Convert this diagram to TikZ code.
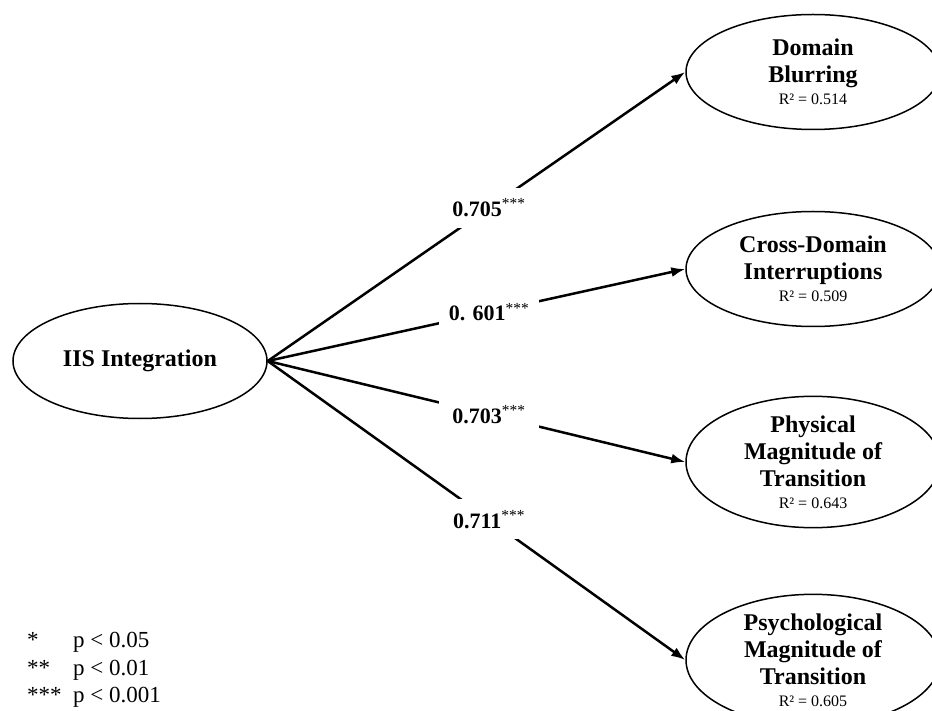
\documentclass[tikz,border=0pt]{standalone}
\usepackage{fontspec}
\setmainfont{Liberation Serif}
\usetikzlibrary{shapes.geometric,arrows.meta}
\newcommand{\rsq}[1]{\\[-5pt]{\fontsize{16}{18}\selectfont\mdseries R² = #1}}
\newcommand{\sig}{\textsuperscript{\mdseries ***}}
\tikzset{
    latent/.style={ellipse,draw=black,line width=1.5pt,minimum width=254pt,minimum height=115pt,inner sep=0pt,align=center,font=\fontsize{24}{27}\selectfont\bfseries},
    parr/.style={-{Latex[length=14pt,width=10pt]},line width=2.5pt},
    coef/.style={fill=white,inner sep=2pt,minimum width=100pt,minimum height=40pt,font=\fontsize{22}{26}\selectfont\bfseries},
    legd/.style={anchor=base west,inner sep=0pt,font=\fontsize{23}{26}\selectfont},
}

\begin{document}
\begin{tikzpicture}[x=1pt,y=-1pt]
\clip (0,0) rectangle (932,711);
\node[latent] (iis) at (140,361) {IIS Integration};
\node[latent] (db) at (813,72) {Domain\\Blurring\rsq{0.514}};
\node[latent] (cdi) at (813,269) {Cross-Domain\\Interruptions\rsq{0.509}};
\node[latent] (pmt) at (813,462) {Physical\\Magnitude of\\Transition\rsq{0.643}};
\node[latent] (psy) at (813,660) {Psychological\\Magnitude of\\Transition\rsq{0.605}};
\draw[parr] (iis.east) -- node[coef,pos=0.53] (c1) {0.705\sig} (db.west);
\draw[parr] (iis.east) -- node[coef,pos=0.53] (c2) {0. 601\sig} (cdi.west);
\draw[parr] (iis.east) -- node[coef,pos=0.53] (c3) {0.703\sig} (pmt.west);
\draw[parr] (iis.east) -- node[coef,pos=0.53] (c4) {0.711\sig} (psy.west);
% significance legend
\node[legd] (s1) at (27,647) {*};
\node[legd] (p1) at (73,647) {p < 0.05};
\node[legd] (s2) at (27,675) {**};
\node[legd] (p2) at (73,675) {p < 0.01};
\node[legd] (s3) at (27,702) {***};
\node[legd] (p3) at (73,702) {p < 0.001};
\end{tikzpicture}
\end{document}
